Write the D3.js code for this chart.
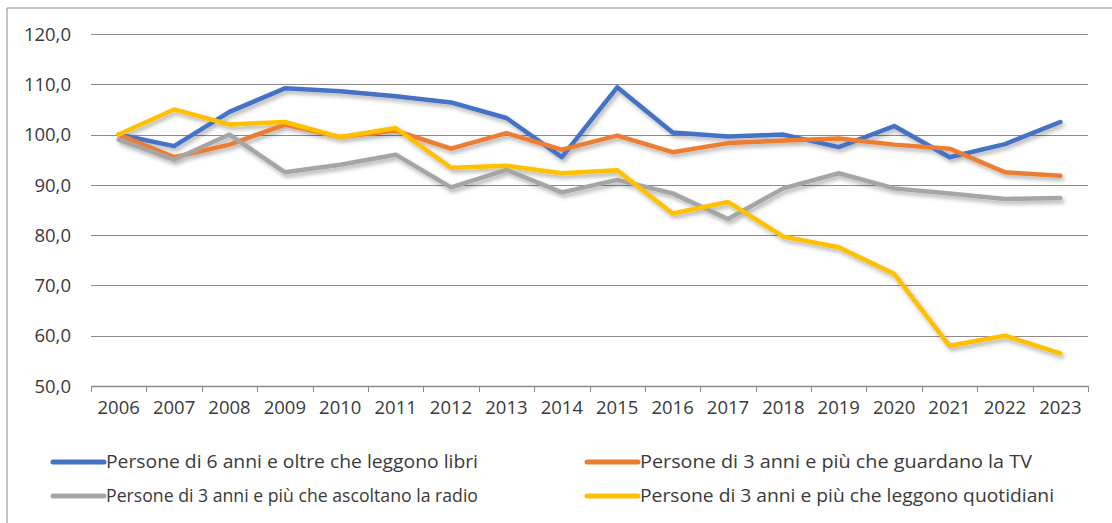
<!DOCTYPE html>
<html>
<head>
<meta charset="utf-8">
<script src="https://cdn.jsdelivr.net/npm/d3@7"></script>
<style>
  body { margin: 0; background: #fff; }
  svg text { font-family: 'Open Sans', 'Liberation Sans', sans-serif; fill: #3a3a3a; }
</style>
</head>
<body>
<div id="viz"></div>
<script>
(function chart() {
  const width = 1112;
  const height = 523;
  const margin = { top: 34, right: 24, bottom: 137, left: 91 };

  const years = ['2006', '2007', '2008', '2009', '2010', '2011', '2012', '2013', '2014',
    '2015', '2016', '2017', '2018', '2019', '2020', '2021', '2022', '2023'];
  const yTicks = [50, 60, 70, 80, 90, 100, 110, 120];

  const libri = [100, 97.7, 104.5, 109.2, 108.6, 107.6, 106.4, 103.3, 95.5,
    109.4, 100.4, 99.6, 100, 97.5, 101.7, 95.5, 98.1, 102.5];
  const tv = [100, 95.5, 98, 102, 99.5, 100.8, 97.2, 100.3, 97,
    99.8, 96.5, 98.3, 98.8, 99.2, 98, 97.2, 92.5, 91.8];
  const radio = [99, 95, 100, 92.5, 94, 96, 89.5, 93, 88.5,
    91, 88.3, 83.2, 89.3, 92.3, 89.3, 88.3, 87.2, 87.4];
  const quotidiani = [100, 105, 102, 102.5, 99.5, 101.3, 93.4, 93.8, 92.3,
    92.9, 84.3, 86.6, 79.7, 77.6, 72.3, 58, 60, 56.5];

  const series = [
    { name: 'Persone di 6 anni e oltre che leggono libri', values: libri, color: '#4472C4' },
    { name: 'Persone di 3 anni e più che guardano la TV', values: tv, color: '#ED7D31' },
    { name: 'Persone di 3 anni e più che ascoltano la radio', values: radio, color: '#A5A5A5' },
    { name: 'Persone di 3 anni e più che leggono quotidiani', values: quotidiani, color: '#FFC000' },
  ];
  // widths of legend labels as they appear in the original
  const legendTextWidth = [372, 392, 372, 414];

  const svg = d3.select('#viz').append('svg')
    .attr('width', width)
    .attr('height', height);

  // drop shadow like the excel one
  const filter = svg.append('defs').append('filter')
    .attr('id', 'shadow')
    .attr('x', '-5%').attr('y', '-20%')
    .attr('width', '110%').attr('height', '140%');
  filter.append('feDropShadow')
    .attr('dx', 2).attr('dy', 3)
    .attr('stdDeviation', 2)
    .attr('flood-color', '#000')
    .attr('flood-opacity', 0.3);

  // chart border (top + left only visible)
  svg.append('line')
    .attr('x1', 7).attr('y1', 8).attr('x2', width).attr('y2', 8)
    .attr('stroke', '#8c8c8c').attr('stroke-width', 1);
  svg.append('line')
    .attr('x1', 7).attr('y1', 8).attr('x2', 7).attr('y2', height)
    .attr('stroke', '#8c8c8c').attr('stroke-width', 1);

  const plotRight = 1088;
  const plotBottom = 386;

  const x = d3.scaleBand()
    .domain(years)
    .range([margin.left, plotRight]);

  const y = d3.scaleLinear()
    .domain([50, 120])
    .range([plotBottom, margin.top]);

  // gridlines
  svg.append('g')
    .selectAll('line')
    .data(yTicks.slice(1))
    .enter()
    .append('line')
    .attr('x1', margin.left)
    .attr('x2', plotRight)
    .attr('y1', d => Math.round(y(d)) + 0.5)
    .attr('y2', d => Math.round(y(d)) + 0.5)
    .attr('stroke', '#8c8c8c')
    .attr('stroke-width', 1);

  // y labels
  svg.append('g')
    .selectAll('text')
    .data(yTicks)
    .enter()
    .append('text')
    .attr('x', 71)
    .attr('y', d => y(d))
    .attr('dy', '0.36em')
    .attr('text-anchor', 'end')
    .style('font-size', '18.5px')
    .text(d => d3.format('.1f')(d).replace('.', ','));

  // x axis
  const xAxis = d3.axisBottom(x).tickSize(0).tickSizeOuter(0);
  const gx = svg.append('g')
    .attr('transform', `translate(0, ${plotBottom})`)
    .call(xAxis);
  gx.select('.domain').attr('stroke', '#8c8c8c').attr('stroke-width', 1.5);
  gx.selectAll('.tick text')
    .attr('y', 0)
    .attr('dy', '1.5em')
    .style('font-size', '18.5px')
    .style('font-family', "'Open Sans', 'Liberation Sans', sans-serif")
    .attr('fill', '#3a3a3a');

  // tick marks between categories
  const edges = years.map(d => x(d)).concat([plotRight]);
  svg.append('g')
    .selectAll('line')
    .data(edges)
    .enter()
    .append('line')
    .attr('x1', d => Math.round(d) + 0.5)
    .attr('x2', d => Math.round(d) + 0.5)
    .attr('y1', plotBottom)
    .attr('y2', plotBottom + 6)
    .attr('stroke', '#8c8c8c')
    .attr('stroke-width', 1);

  const line = d3.line()
    .x((d, i) => x(years[i]) + x.bandwidth() / 2)
    .y(d => y(d));

  svg.append('g')
    .attr('filter', 'url(#shadow)')
    .selectAll('path')
    .data(series)
    .enter()
    .append('path')
    .attr('fill', 'none')
    .attr('stroke', d => d.color)
    .attr('stroke-width', 4.5)
    .attr('stroke-linejoin', 'round')
    .attr('stroke-linecap', 'round')
    .attr('d', d => line(d.values));

  // legend
  const legendPos = [
    { x: 53, y: 462 },
    { x: 587, y: 462 },
    { x: 53, y: 496 },
    { x: 587, y: 496 },
  ];
  const legend = svg.append('g')
    .selectAll('g')
    .data(series)
    .enter()
    .append('g')
    .attr('transform', (d, i) => `translate(${legendPos[i].x}, ${legendPos[i].y})`);

  legend.append('line')
    .attr('x1', 0).attr('x2', 51)
    .attr('y1', 0).attr('y2', 0)
    .attr('stroke', d => d.color)
    .attr('stroke-width', 5)
    .attr('stroke-linecap', 'round');

  legend.append('text')
    .attr('x', 53)
    .attr('dy', '0.36em')
    .style('font-size', '18px')
    .attr('textLength', (d, i) => legendTextWidth[i])
    .attr('lengthAdjust', 'spacingAndGlyphs')
    .text(d => d.name);
}());
</script>
</body>
</html>
